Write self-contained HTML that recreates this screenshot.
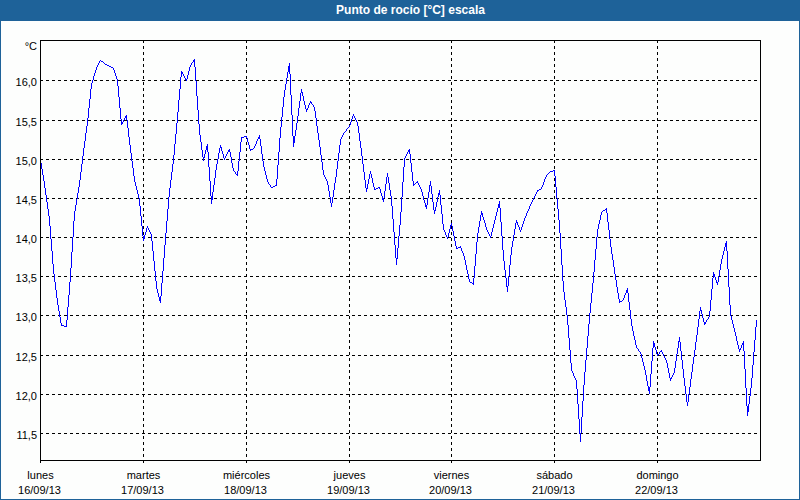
<!DOCTYPE html>
<html><head><meta charset="utf-8"><title>Punto de rocío</title>
<style>
html,body{margin:0;padding:0}
body{width:800px;height:500px;overflow:hidden;background:#1e6299;position:relative;font-family:"Liberation Sans",sans-serif;font-size:11px;color:#000}
#inner{position:absolute;left:1px;top:21px;width:798px;height:478px;background:#fdfefd}
#bar{position:absolute;left:0;top:0;width:800px;height:20px;background:#1e6299}
#edge{position:absolute;left:0;top:20px;width:800px;height:1px;background:#1e6299}
#title{position:absolute;left:330px;top:3px;width:161px;height:14px;line-height:14px;text-align:center;color:#fff;font-weight:bold;font-size:12px;white-space:nowrap}
.yl{position:absolute;left:0;width:37px;height:13px;line-height:13px;text-align:right;white-space:nowrap}
.xl{position:absolute;width:101px;height:13px;line-height:13px;text-align:center;white-space:nowrap}
</style></head><body>
<div id="bar"></div><div id="edge"></div>
<div id="inner"></div>
<div id="title">Punto de rocío [°C] escala</div>
<svg width="800" height="500" viewBox="0 0 800 500" style="position:absolute;left:0;top:0" shape-rendering="crispEdges">
<line x1="40" y1="80.5" x2="760" y2="80.5" stroke="#000" stroke-width="1" stroke-dasharray="3 3"/>
<line x1="40" y1="120.5" x2="760" y2="120.5" stroke="#000" stroke-width="1" stroke-dasharray="3 3"/>
<line x1="40" y1="159.5" x2="760" y2="159.5" stroke="#000" stroke-width="1" stroke-dasharray="3 3"/>
<line x1="40" y1="198.5" x2="760" y2="198.5" stroke="#000" stroke-width="1" stroke-dasharray="3 3"/>
<line x1="40" y1="237.5" x2="760" y2="237.5" stroke="#000" stroke-width="1" stroke-dasharray="3 3"/>
<line x1="40" y1="276.5" x2="760" y2="276.5" stroke="#000" stroke-width="1" stroke-dasharray="3 3"/>
<line x1="40" y1="315.5" x2="760" y2="315.5" stroke="#000" stroke-width="1" stroke-dasharray="3 3"/>
<line x1="40" y1="355.5" x2="760" y2="355.5" stroke="#000" stroke-width="1" stroke-dasharray="3 3"/>
<line x1="40" y1="394.5" x2="760" y2="394.5" stroke="#000" stroke-width="1" stroke-dasharray="3 3"/>
<line x1="40" y1="433.5" x2="760" y2="433.5" stroke="#000" stroke-width="1" stroke-dasharray="3 3"/>
<line x1="40.5" y1="40" x2="40.5" y2="463" stroke="#000" stroke-width="1" stroke-dasharray="3 3"/>
<line x1="143.5" y1="40" x2="143.5" y2="463" stroke="#000" stroke-width="1" stroke-dasharray="3 3"/>
<line x1="246.5" y1="40" x2="246.5" y2="463" stroke="#000" stroke-width="1" stroke-dasharray="3 3"/>
<line x1="349.5" y1="40" x2="349.5" y2="463" stroke="#000" stroke-width="1" stroke-dasharray="3 3"/>
<line x1="451.5" y1="40" x2="451.5" y2="463" stroke="#000" stroke-width="1" stroke-dasharray="3 3"/>
<line x1="554.5" y1="40" x2="554.5" y2="463" stroke="#000" stroke-width="1" stroke-dasharray="3 3"/>
<line x1="657.5" y1="40" x2="657.5" y2="463" stroke="#000" stroke-width="1" stroke-dasharray="3 3"/>
<path d="M194 59h1v8h-1zM100 60h1v1h-1zM193 60h1v2h-1zM101 61h2v1h-2zM99 61h1v2h-1zM103 62h1v1h-1zM192 62h1v1h-1zM104 63h1v1h-1zM98 63h1v2h-1zM191 63h1v2h-1zM289 63h1v11h-1zM105 64h2v1h-2zM107 65h2v1h-2zM97 65h1v2h-1zM190 65h1v2h-1zM109 66h2v1h-2zM288 66h1v6h-1zM111 67h2v1h-2zM96 67h1v3h-1zM189 67h1v4h-1zM195 67h1v14h-1zM113 68h1v2h-1zM95 70h1v3h-1zM114 70h1v3h-1zM188 71h1v4h-1zM181 71h1v6h-1zM182 72h1v2h-1zM287 72h1v6h-1zM94 73h1v3h-1zM115 73h1v3h-1zM183 74h1v2h-1zM290 74h1v21h-1zM187 75h1v4h-1zM184 76h1v2h-1zM116 76h1v3h-1zM93 76h1v4h-1zM180 77h1v12h-1zM185 78h1v2h-1zM286 78h1v6h-1zM186 79h1v2h-1zM117 79h1v7h-1zM92 80h1v3h-1zM196 81h1v15h-1zM91 83h1v6h-1zM285 84h1v6h-1zM118 86h1v11h-1zM301 89h1v4h-1zM90 89h1v10h-1zM179 89h1v11h-1zM284 90h1v7h-1zM302 92h1v4h-1zM300 93h1v8h-1zM291 95h1v20h-1zM303 96h1v5h-1zM197 96h1v14h-1zM283 97h1v10h-1zM119 97h1v11h-1zM89 99h1v9h-1zM178 100h1v12h-1zM310 101h1v2h-1zM304 101h1v4h-1zM299 101h1v7h-1zM311 102h1v2h-1zM309 103h1v2h-1zM312 104h1v1h-1zM313 105h1v2h-1zM308 105h1v3h-1zM305 105h1v4h-1zM314 107h1v4h-1zM282 107h1v10h-1zM307 108h1v2h-1zM298 108h1v8h-1zM88 108h1v10h-1zM120 108h1v11h-1zM306 109h1v3h-1zM198 110h1v14h-1zM315 111h1v7h-1zM177 112h1v11h-1zM353 114h1v2h-1zM126 115h1v5h-1zM292 115h1v21h-1zM125 116h1v2h-1zM354 116h1v2h-1zM352 116h1v3h-1zM297 116h1v7h-1zM281 117h1v10h-1zM124 118h1v2h-1zM355 118h1v2h-1zM87 118h1v8h-1zM316 118h1v8h-1zM351 119h1v3h-1zM121 119h1v6h-1zM123 120h1v2h-1zM356 120h1v2h-1zM127 120h1v8h-1zM122 122h1v2h-1zM350 122h1v3h-1zM357 122h1v4h-1zM296 123h1v7h-1zM176 123h1v11h-1zM199 124h1v11h-1zM349 125h1v2h-1zM86 126h1v7h-1zM317 126h1v7h-1zM358 126h1v7h-1zM348 127h1v1h-1zM280 127h1v11h-1zM347 128h1v1h-1zM128 128h1v9h-1zM346 129h1v2h-1zM295 130h1v6h-1zM345 131h1v1h-1zM344 132h1v1h-1zM343 133h1v2h-1zM318 133h1v7h-1zM85 133h1v8h-1zM359 133h1v8h-1zM175 134h1v10h-1zM342 135h1v2h-1zM259 135h1v4h-1zM200 135h1v7h-1zM244 136h2v1h-2zM246 136h1v2h-1zM294 136h1v7h-1zM293 136h1v11h-1zM242 137h2v1h-2zM258 137h1v2h-1zM341 137h1v2h-1zM241 137h1v5h-1zM129 137h1v8h-1zM247 138h1v4h-1zM279 138h1v14h-1zM257 139h1v2h-1zM340 139h1v6h-1zM260 139h1v7h-1zM319 140h1v7h-1zM256 141h1v3h-1zM84 141h1v7h-1zM360 141h1v7h-1zM248 142h1v3h-1zM201 142h1v8h-1zM240 142h1v10h-1zM255 144h1v2h-1zM207 144h1v8h-1zM174 144h1v11h-1zM220 145h1v3h-1zM249 145h1v4h-1zM130 145h1v8h-1zM339 145h1v8h-1zM254 146h1v2h-1zM206 146h1v4h-1zM261 146h1v8h-1zM221 147h1v4h-1zM320 147h1v8h-1zM253 148h1v1h-1zM219 148h1v5h-1zM83 148h1v8h-1zM361 148h1v8h-1zM251 149h2v1h-2zM250 149h1v2h-1zM229 149h1v3h-1zM409 149h1v5h-1zM228 150h1v2h-1zM408 150h1v2h-1zM205 150h1v4h-1zM202 150h1v7h-1zM222 151h1v3h-1zM227 152h1v2h-1zM407 152h1v2h-1zM230 152h1v5h-1zM239 152h1v9h-1zM278 152h1v13h-1zM208 152h1v15h-1zM218 153h1v6h-1zM131 153h1v8h-1zM338 153h1v8h-1zM226 154h1v2h-1zM406 154h1v2h-1zM204 154h1v4h-1zM223 154h1v4h-1zM262 154h1v7h-1zM410 154h1v9h-1zM321 155h1v7h-1zM173 155h1v9h-1zM225 156h1v2h-1zM405 156h1v2h-1zM82 156h1v8h-1zM362 156h1v8h-1zM203 157h1v4h-1zM231 157h1v6h-1zM224 158h1v2h-1zM404 158h1v9h-1zM40 159h1v4h-1zM217 159h1v5h-1zM263 161h1v6h-1zM132 161h1v7h-1zM337 161h1v8h-1zM238 161h1v10h-1zM322 162h1v8h-1zM232 163h1v5h-1zM41 163h1v6h-1zM411 163h1v9h-1zM216 164h1v6h-1zM81 164h1v8h-1zM172 164h1v8h-1zM363 164h1v8h-1zM277 165h1v14h-1zM264 167h1v4h-1zM209 167h1v14h-1zM403 167h1v15h-1zM233 168h1v3h-1zM133 168h1v8h-1zM42 169h1v6h-1zM336 169h1v8h-1zM553 170h1v1h-1zM323 170h1v5h-1zM554 170h1v6h-1zM215 170h1v8h-1zM234 171h1v1h-1zM550 171h3v1h-3zM370 171h1v3h-1zM265 171h1v4h-1zM237 171h1v5h-1zM549 172h1v1h-1zM235 172h1v2h-1zM80 172h1v8h-1zM171 172h1v8h-1zM364 172h1v8h-1zM412 172h1v9h-1zM548 173h1v1h-1zM387 173h1v4h-1zM236 174h1v1h-1zM547 174h1v1h-1zM371 174h1v4h-1zM369 174h1v5h-1zM324 175h1v2h-1zM546 175h1v2h-1zM266 175h1v4h-1zM43 175h1v6h-1zM134 176h1v6h-1zM555 176h1v11h-1zM325 177h1v2h-1zM545 177h1v2h-1zM335 177h1v6h-1zM388 177h1v6h-1zM386 177h1v7h-1zM372 178h1v5h-1zM214 178h1v7h-1zM326 179h1v2h-1zM267 179h1v3h-1zM544 179h1v3h-1zM368 179h1v5h-1zM276 179h1v7h-1zM79 180h1v7h-1zM170 180h1v8h-1zM365 180h1v8h-1zM417 181h1v2h-1zM327 181h1v4h-1zM413 181h1v5h-1zM430 181h1v5h-1zM44 181h1v7h-1zM210 181h1v15h-1zM416 182h1v1h-1zM268 182h1v2h-1zM543 182h1v3h-1zM135 182h1v4h-1zM402 182h1v15h-1zM415 183h1v1h-1zM418 183h1v2h-1zM373 183h1v4h-1zM334 183h1v7h-1zM389 183h1v7h-1zM269 184h1v1h-1zM414 184h1v1h-1zM367 184h1v5h-1zM385 184h1v7h-1zM275 185h1v1h-1zM270 185h1v2h-1zM419 185h1v2h-1zM542 185h1v2h-1zM328 185h1v6h-1zM213 185h1v7h-1zM429 185h1v7h-1zM273 186h2v1h-2zM136 186h1v4h-1zM431 186h1v8h-1zM271 187h2v1h-2zM378 187h1v1h-1zM379 187h1v2h-1zM420 187h1v2h-1zM541 187h1v2h-1zM374 187h1v3h-1zM78 187h1v6h-1zM556 187h1v11h-1zM376 188h2v1h-2zM366 188h1v4h-1zM45 188h1v7h-1zM169 188h1v9h-1zM375 189h1v1h-1zM539 189h2v1h-2zM421 189h1v3h-1zM380 189h1v4h-1zM538 190h1v1h-1zM537 190h1v2h-1zM137 190h1v4h-1zM439 190h1v5h-1zM390 190h1v6h-1zM333 190h1v7h-1zM329 191h1v6h-1zM384 191h1v7h-1zM536 192h1v2h-1zM422 192h1v4h-1zM428 192h1v6h-1zM212 192h1v8h-1zM381 193h1v3h-1zM438 193h1v4h-1zM77 193h1v6h-1zM535 194h1v2h-1zM138 194h1v4h-1zM432 194h1v8h-1zM46 195h1v7h-1zM440 195h1v10h-1zM534 196h1v2h-1zM382 196h1v4h-1zM423 196h1v4h-1zM211 196h1v8h-1zM391 196h1v10h-1zM437 197h1v5h-1zM330 197h1v6h-1zM332 197h1v6h-1zM168 197h1v12h-1zM401 197h1v15h-1zM533 198h1v2h-1zM383 198h1v4h-1zM427 198h1v7h-1zM139 198h1v8h-1zM557 198h1v11h-1zM76 199h1v6h-1zM532 200h1v2h-1zM424 200h1v3h-1zM499 201h1v7h-1zM531 202h1v2h-1zM436 202h1v5h-1zM47 202h1v7h-1zM433 202h1v8h-1zM331 203h1v4h-1zM425 203h1v4h-1zM530 204h1v2h-1zM498 204h1v4h-1zM426 205h1v4h-1zM75 205h1v6h-1zM441 205h1v9h-1zM529 206h1v3h-1zM140 206h1v10h-1zM392 206h1v13h-1zM435 207h1v4h-1zM497 208h1v4h-1zM606 208h1v5h-1zM500 208h1v14h-1zM605 209h1v1h-1zM528 209h1v2h-1zM48 209h1v7h-1zM558 209h1v11h-1zM167 209h1v12h-1zM603 210h2v1h-2zM434 210h1v4h-1zM602 211h1v1h-1zM527 211h1v2h-1zM481 211h1v4h-1zM74 211h1v10h-1zM601 212h1v3h-1zM496 212h1v4h-1zM400 212h1v13h-1zM526 213h1v3h-1zM482 213h1v4h-1zM607 213h1v9h-1zM442 214h1v10h-1zM600 215h1v5h-1zM480 215h1v6h-1zM525 216h1v2h-1zM495 216h1v4h-1zM49 216h1v10h-1zM141 216h1v10h-1zM483 217h1v3h-1zM524 218h1v3h-1zM393 219h1v13h-1zM484 220h1v3h-1zM516 220h1v3h-1zM494 220h1v4h-1zM599 220h1v4h-1zM559 220h1v13h-1zM523 221h1v3h-1zM479 221h1v6h-1zM166 221h1v12h-1zM73 221h1v16h-1zM517 222h1v3h-1zM608 222h1v8h-1zM501 222h1v14h-1zM451 223h1v3h-1zM485 223h1v4h-1zM515 223h1v6h-1zM522 224h1v3h-1zM493 224h1v4h-1zM598 224h1v5h-1zM443 224h1v6h-1zM518 225h1v2h-1zM450 225h1v4h-1zM399 225h1v11h-1zM147 226h1v2h-1zM452 226h1v5h-1zM142 226h1v10h-1zM50 226h1v13h-1zM486 227h1v3h-1zM519 227h1v3h-1zM521 227h1v3h-1zM478 227h1v6h-1zM148 228h1v2h-1zM146 228h1v4h-1zM492 228h1v4h-1zM449 229h1v4h-1zM514 229h1v6h-1zM597 229h1v8h-1zM149 230h1v2h-1zM444 230h1v2h-1zM487 230h1v2h-1zM520 230h1v2h-1zM609 230h1v9h-1zM453 231h1v5h-1zM150 232h1v2h-1zM488 232h1v2h-1zM145 232h1v3h-1zM445 232h1v3h-1zM491 232h1v4h-1zM394 232h1v13h-1zM448 233h1v4h-1zM477 233h1v9h-1zM165 233h1v12h-1zM560 233h1v16h-1zM489 234h1v2h-1zM151 234h1v7h-1zM446 235h1v2h-1zM144 235h1v4h-1zM513 235h1v6h-1zM490 236h1v2h-1zM143 236h1v5h-1zM454 236h1v5h-1zM398 236h1v12h-1zM502 236h1v14h-1zM447 237h1v2h-1zM596 237h1v12h-1zM72 237h1v15h-1zM610 239h1v8h-1zM51 239h1v12h-1zM455 241h1v5h-1zM512 241h1v6h-1zM152 241h1v10h-1zM726 241h1v10h-1zM476 242h1v12h-1zM725 243h1v4h-1zM164 245h1v13h-1zM395 245h1v13h-1zM460 246h1v2h-1zM456 246h1v3h-1zM458 247h2v1h-2zM724 247h1v4h-1zM611 247h1v7h-1zM511 247h1v8h-1zM457 248h1v1h-1zM461 248h1v3h-1zM397 248h1v11h-1zM595 249h1v11h-1zM561 249h1v16h-1zM503 250h1v11h-1zM462 251h1v2h-1zM723 251h1v4h-1zM153 251h1v10h-1zM52 251h1v13h-1zM727 251h1v18h-1zM71 252h1v16h-1zM463 253h1v3h-1zM612 254h1v6h-1zM475 254h1v12h-1zM722 255h1v4h-1zM510 255h1v10h-1zM464 256h1v4h-1zM396 258h1v7h-1zM163 258h1v13h-1zM721 259h1v5h-1zM465 260h1v5h-1zM613 260h1v7h-1zM594 260h1v12h-1zM504 261h1v9h-1zM154 261h1v10h-1zM720 264h1v6h-1zM53 264h1v10h-1zM466 265h1v5h-1zM509 265h1v11h-1zM562 265h1v16h-1zM474 266h1v12h-1zM614 267h1v7h-1zM70 268h1v14h-1zM728 269h1v18h-1zM467 270h1v4h-1zM719 270h1v6h-1zM505 270h1v8h-1zM155 271h1v10h-1zM162 271h1v12h-1zM713 272h1v6h-1zM593 272h1v11h-1zM714 274h1v3h-1zM468 274h1v5h-1zM615 274h1v6h-1zM54 274h1v8h-1zM718 276h1v6h-1zM508 276h1v10h-1zM715 277h1v3h-1zM473 278h1v7h-1zM506 278h1v9h-1zM712 278h1v11h-1zM469 279h1v3h-1zM716 280h1v3h-1zM616 280h1v7h-1zM156 281h1v8h-1zM563 281h1v11h-1zM470 282h2v1h-2zM717 282h1v3h-1zM55 282h1v8h-1zM69 282h1v13h-1zM472 283h1v1h-1zM592 283h1v10h-1zM161 283h1v13h-1zM507 286h1v6h-1zM617 287h1v6h-1zM729 287h1v18h-1zM627 288h1v5h-1zM157 289h1v4h-1zM711 289h1v11h-1zM626 290h1v3h-1zM56 290h1v8h-1zM564 292h1v8h-1zM625 293h1v2h-1zM158 293h1v4h-1zM618 293h1v6h-1zM628 293h1v9h-1zM591 293h1v10h-1zM624 295h1v3h-1zM68 295h1v12h-1zM160 296h1v7h-1zM159 297h1v4h-1zM623 298h1v2h-1zM57 298h1v7h-1zM619 299h1v4h-1zM622 300h1v1h-1zM565 300h1v7h-1zM710 300h1v11h-1zM620 301h2v1h-2zM629 302h1v8h-1zM590 303h1v10h-1zM58 305h1v6h-1zM730 305h1v11h-1zM700 307h1v4h-1zM566 307h1v8h-1zM67 307h1v13h-1zM701 310h1v4h-1zM630 310h1v9h-1zM59 311h1v6h-1zM709 311h1v6h-1zM699 311h1v8h-1zM589 313h1v11h-1zM702 314h1v4h-1zM567 315h1v10h-1zM731 316h1v4h-1zM708 317h1v2h-1zM60 317h1v6h-1zM703 318h1v4h-1zM707 319h1v1h-1zM631 319h1v7h-1zM698 319h1v8h-1zM706 320h1v2h-1zM732 320h1v4h-1zM66 320h1v7h-1zM756 320h1v7h-1zM705 322h1v2h-1zM704 322h1v3h-1zM61 323h1v3h-1zM733 324h1v4h-1zM588 324h1v12h-1zM62 325h2v1h-2zM568 325h1v13h-1zM64 326h2v1h-2zM632 326h1v5h-1zM697 327h1v8h-1zM755 327h1v13h-1zM734 328h1v4h-1zM633 331h1v5h-1zM735 332h1v4h-1zM696 335h1v7h-1zM634 336h1v4h-1zM736 336h1v5h-1zM587 336h1v12h-1zM679 337h1v5h-1zM569 338h1v12h-1zM635 340h1v5h-1zM754 340h1v12h-1zM737 341h1v4h-1zM653 341h1v7h-1zM678 341h1v7h-1zM743 341h1v10h-1zM695 342h1v8h-1zM680 342h1v9h-1zM742 343h1v2h-1zM654 343h1v4h-1zM636 345h1v3h-1zM741 345h1v3h-1zM738 345h1v4h-1zM655 347h1v3h-1zM637 348h1v1h-1zM740 348h1v2h-1zM677 348h1v6h-1zM586 348h1v12h-1zM652 348h1v13h-1zM638 349h1v2h-1zM739 349h1v3h-1zM661 350h1v2h-1zM656 350h1v4h-1zM694 350h1v7h-1zM570 350h1v13h-1zM639 351h1v1h-1zM660 351h1v1h-1zM681 351h1v9h-1zM744 351h1v18h-1zM640 352h1v2h-1zM659 352h1v2h-1zM662 352h1v2h-1zM753 352h1v13h-1zM658 354h1v1h-1zM657 354h1v2h-1zM663 354h1v2h-1zM641 354h1v4h-1zM676 354h1v7h-1zM664 356h1v2h-1zM693 357h1v7h-1zM665 358h1v2h-1zM642 358h1v4h-1zM666 360h1v3h-1zM682 360h1v9h-1zM585 360h1v12h-1zM675 361h1v7h-1zM651 361h1v13h-1zM643 362h1v4h-1zM667 363h1v5h-1zM571 363h1v8h-1zM692 364h1v8h-1zM752 365h1v13h-1zM644 366h1v4h-1zM668 368h1v5h-1zM674 368h1v5h-1zM683 369h1v9h-1zM745 369h1v19h-1zM645 370h1v5h-1zM572 371h1v2h-1zM691 372h1v7h-1zM584 372h1v13h-1zM673 373h1v2h-1zM573 373h1v3h-1zM669 373h1v5h-1zM650 374h1v13h-1zM672 375h1v2h-1zM646 375h1v6h-1zM574 376h1v2h-1zM671 377h1v2h-1zM575 378h1v2h-1zM670 378h1v3h-1zM684 378h1v8h-1zM751 378h1v10h-1zM690 379h1v8h-1zM576 380h1v9h-1zM647 381h1v5h-1zM583 385h1v16h-1zM648 386h1v5h-1zM685 386h1v8h-1zM649 387h1v7h-1zM689 387h1v7h-1zM750 388h1v8h-1zM746 388h1v18h-1zM577 389h1v15h-1zM686 394h1v8h-1zM688 394h1v8h-1zM749 396h1v8h-1zM582 401h1v16h-1zM687 402h1v4h-1zM748 404h1v8h-1zM578 404h1v15h-1zM747 406h1v10h-1zM581 417h1v16h-1zM579 419h1v15h-1zM580 433h1v9h-1z" fill="#0000ff"/>
<rect x="40.5" y="40.5" width="720" height="420" fill="none" stroke="#000" stroke-width="1"/>
</svg>
<div class="yl" style="top:76px">16,0</div>
<div class="yl" style="top:116px">15,5</div>
<div class="yl" style="top:155px">15,0</div>
<div class="yl" style="top:194px">14,5</div>
<div class="yl" style="top:233px">14,0</div>
<div class="yl" style="top:272px">13,5</div>
<div class="yl" style="top:311px">13,0</div>
<div class="yl" style="top:351px">12,5</div>
<div class="yl" style="top:390px">12,0</div>
<div class="yl" style="top:429px">11,5</div>
<div class="yl" style="top:40px">°C</div>
<div class="xl" style="left:-10px;top:469px">lunes</div>
<div class="xl" style="left:-11px;top:484px">16/09/13</div>
<div class="xl" style="left:93px;top:469px">martes</div>
<div class="xl" style="left:92px;top:484px">17/09/13</div>
<div class="xl" style="left:196px;top:469px">miércoles</div>
<div class="xl" style="left:195px;top:484px">18/09/13</div>
<div class="xl" style="left:299px;top:469px">jueves</div>
<div class="xl" style="left:298px;top:484px">19/09/13</div>
<div class="xl" style="left:401px;top:469px">viernes</div>
<div class="xl" style="left:400px;top:484px">20/09/13</div>
<div class="xl" style="left:504px;top:469px">sábado</div>
<div class="xl" style="left:503px;top:484px">21/09/13</div>
<div class="xl" style="left:607px;top:469px">domingo</div>
<div class="xl" style="left:606px;top:484px">22/09/13</div>
</body></html>
